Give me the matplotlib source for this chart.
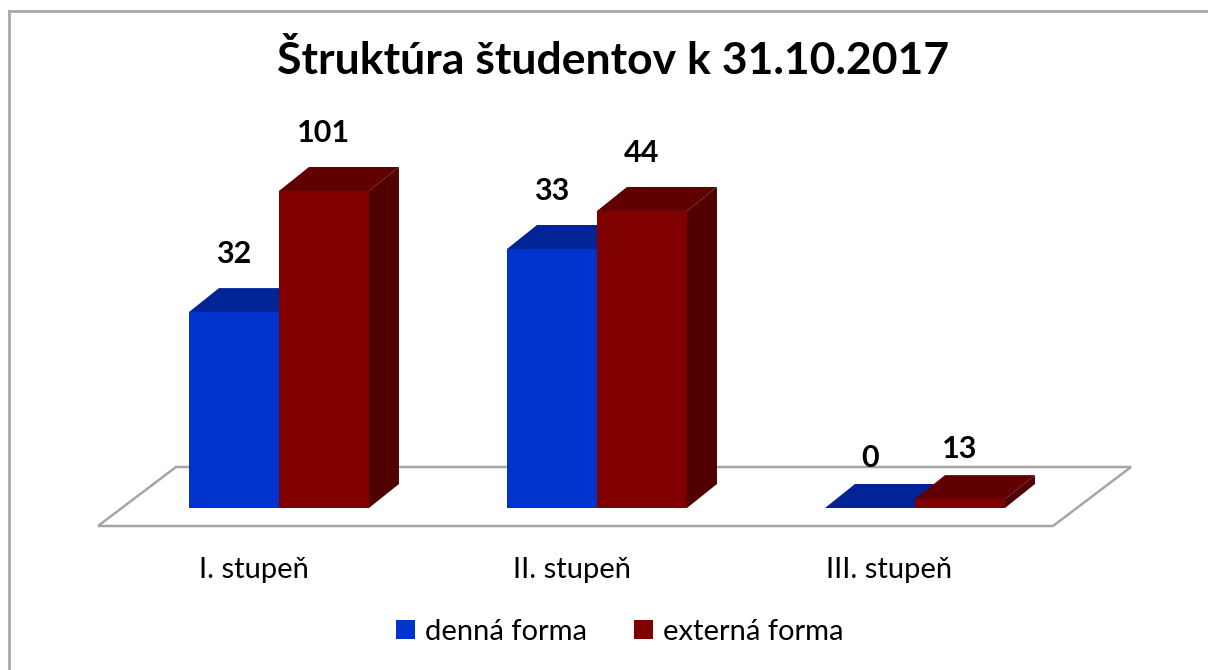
import matplotlib
matplotlib.use('Agg')
import matplotlib.pyplot as plt
from matplotlib.patches import Polygon, Patch
from matplotlib.lines import Line2D

plt.rcParams['font.family'] = ['Lato', 'DejaVu Sans']

# ---- data ----
categories = ['I. stupeň', 'II. stupeň', 'III. stupeň']
series = ['denná forma', 'externá forma']
value_labels = [[32, 33, 0], [101, 44, 13]]
# bar heights as drawn in the picture (relative scale, tallest bar = 100)
bar_heights = [[61.8, 81.7, 0.0], [100.0, 93.7, 2.8]]

FRONT = ['#0033CC', '#800000']
TOP = ['#002496', '#600000']
SIDE = ['#001A70', '#500000']
FLOOR = '#A6A6A6'

# ---- layout (pixels) ----
W, H = 1208, 670
AX_L, AX_R = 98, 1053          # plot area, x
AX_BASE, AX_TOP = 508, 191     # plot area, y (image coords)
XLIM = (-0.569, 2.434)
YLIM = (0, 100)
BAR_W = 0.283                  # one bar width in category units
DEPTH_PX = (30, 24)            # 3d depth of bars
FLOOR_FRONT_PX = 18            # floor front edge below bar front
FLOOR_DEPTH_PX = (78, 59)

fig = plt.figure(figsize=(W / 100, H / 100), dpi=100)
ax = fig.add_axes([AX_L / W, (H - AX_BASE) / H, (AX_R - AX_L) / W, (AX_BASE - AX_TOP) / H])
ax.set_xlim(*XLIM)
ax.set_ylim(*YLIM)
ax.axis('off')

ppx = (AX_R - AX_L) / (XLIM[1] - XLIM[0])   # pixels per category unit
ppy = (AX_BASE - AX_TOP) / (YLIM[1] - YLIM[0])
ddx, ddy = DEPTH_PX[0] / ppx, DEPTH_PX[1] / ppy

# floor
fy0 = -FLOOR_FRONT_PX / ppy
fdx, fdy = FLOOR_DEPTH_PX[0] / ppx, FLOOR_DEPTH_PX[1] / ppy
floor = Polygon([(XLIM[0], fy0), (XLIM[1], fy0), (XLIM[1] + fdx, fy0 + fdy),
                 (XLIM[0] + fdx, fy0 + fdy)], closed=True, facecolor='white',
                edgecolor=FLOOR, lw=1.8, zorder=1, clip_on=False)
ax.add_patch(floor)

# bars (front faces through ax.bar, top and side as polygons)
for s in range(len(series)):
    xs = [i + (s - 0.5) * BAR_W for i in range(len(categories))]
    for i, (x, h) in enumerate(zip(xs, bar_heights[s])):
        x0, x1 = x - BAR_W / 2, x + BAR_W / 2
        z = 2 + s
        side = Polygon([(x1, 0), (x1 + ddx, ddy), (x1 + ddx, h + ddy), (x1, h)],
                       closed=True, facecolor=SIDE[s], edgecolor='none', zorder=z, clip_on=False)
        top = Polygon([(x0, h), (x1, h), (x1 + ddx, h + ddy), (x0 + ddx, h + ddy)],
                      closed=True, facecolor=TOP[s], edgecolor='none', zorder=z, clip_on=False)
        ax.add_patch(side)
        ax.add_patch(top)
        gap = 20 if h > 10 else 12
        ax.text(x, h + ddy + gap / ppy, str(value_labels[s][i]), ha='center', va='bottom',
                fontsize=22, fontweight='bold', color='black', zorder=10)
    ax.bar(xs, bar_heights[s], width=BAR_W, color=FRONT[s], edgecolor='none',
           zorder=2 + s, clip_on=False)

# category labels
for i, c in enumerate(categories):
    ax.text(i - 0.08, -(570 - AX_BASE) / ppy, c, ha='center', va='center',
            fontsize=21, color='black')

# title
fig.text(613 / W, 1 - 60 / H, 'Štruktúra študentov k 31.10.2017', ha='center', va='center',
         fontsize=32, fontweight='bold', color='black')

# legend
handles = [Patch(facecolor=FRONT[0], edgecolor='none'), Patch(facecolor=FRONT[1], edgecolor='none')]
fig.legend(handles, series, loc='center', bbox_to_anchor=(620 / W, 1 - 632 / H), ncol=2,
           frameon=False, fontsize=21, handlelength=0.65, handleheight=0.65,
           handletextpad=0.35, columnspacing=1.6)

# chart border (left and top visible in the crop)
fig.add_artist(Line2D([9 / W, 9 / W], [0, 1 - 11 / H], color='#AAAAAA', lw=2))
fig.add_artist(Line2D([9 / W, 1], [1 - 11 / H, 1 - 11 / H], color='#AAAAAA', lw=2))

fig.savefig('out.png', dpi=100, facecolor='white')
